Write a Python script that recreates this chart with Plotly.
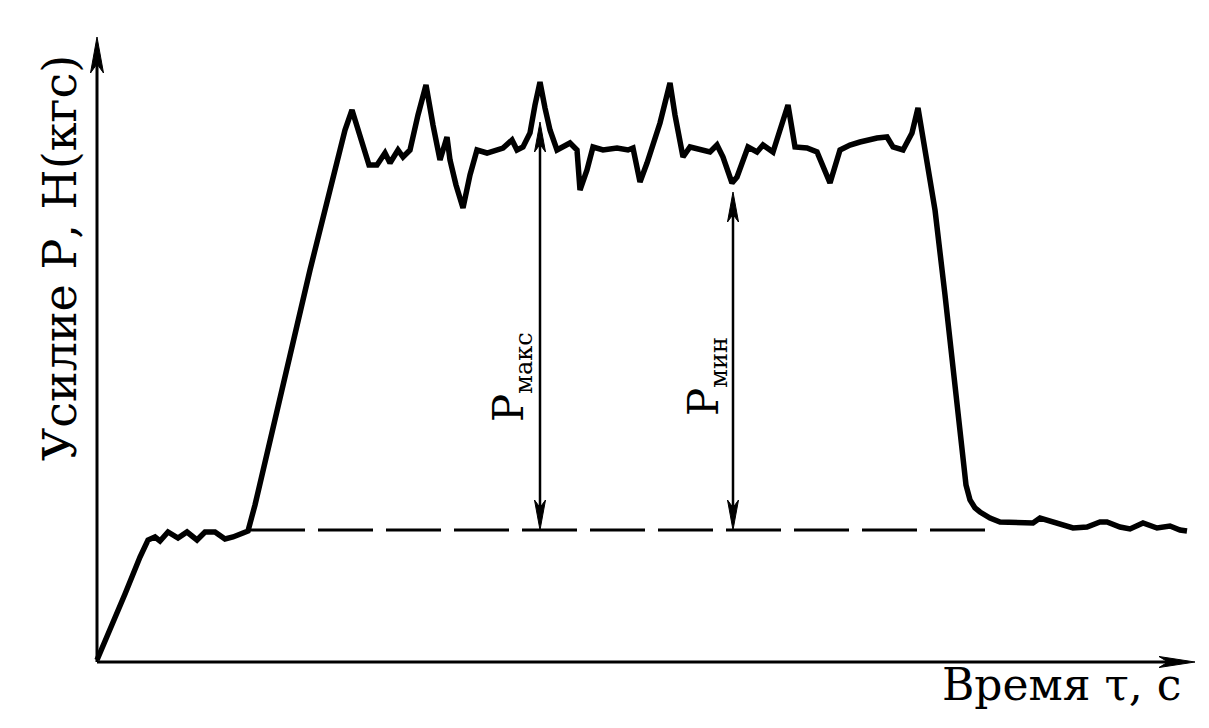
import plotly.graph_objects as go

# Time (arbitrary units) and force P (arbitrary units)
t = [0, 13, 28, 43, 51, 58, 63, 71, 81, 90, 100, 108, 118, 128, 136, 146, 151,
     158, 173, 193, 213, 233, 248, 255, 263, 272, 280, 288, 293, 301, 306, 313,
     321, 329, 336, 343, 350, 353, 359, 366, 373, 380, 390, 400, 406, 415, 420,
     426, 433, 438, 443, 448, 453, 460, 473, 480, 483, 490, 496, 506, 520, 531,
     536, 543, 550, 563, 573, 578, 583, 586, 593, 603, 613, 620, 626, 635, 640,
     651, 660, 666, 676, 683, 691, 698, 710, 720, 733, 743, 753, 763, 771, 780,
     790, 796, 806, 815, 821, 825, 831, 838, 848, 858, 865, 869, 873, 878, 883,
     893, 903, 920, 936, 943, 956, 966, 976, 990, 1003, 1010, 1016, 1023, 1033,
     1046, 1060, 1073, 1083, 1090]
P = [2, 32, 68, 105, 122, 125, 121, 130, 124, 130, 122, 130, 130, 123, 125, 129,
     131, 157, 222, 307, 392, 472, 532, 552, 527, 497, 497, 509, 499, 512, 505,
     512, 547, 577, 537, 502, 525, 502, 477, 454, 487, 512, 509, 512, 514, 522,
     512, 515, 529, 557, 580, 554, 532, 512, 519, 512, 472, 492, 515, 512, 514,
     512, 514, 480, 499, 539, 579, 547, 519, 505, 515, 512, 510, 517, 505, 479,
     485, 515, 510, 517, 510, 532, 557, 515, 514, 510, 479, 512, 517, 520, 522,
     524, 525, 515, 512, 529, 554, 529, 497, 452, 367, 282, 212, 177, 162, 154,
     150, 144, 140, 139, 139, 144, 140, 136, 134, 135, 140, 140, 137, 135, 133,
     139, 134, 136, 132, 131]

baseline_P = 132            # dashed reference level
baseline_span = [153, 900]  # time span of the dashed line
p_max_t, p_max_top = 443, 540   # "P макс" arrow
p_min_t, p_min_top = 636, 470   # "P мин" arrow
y_axis_top = 625
x_axis_end = 1098

y_title = "Усилие Р, Н(кгс)"
x_title = "Время τ, с"
p_max_label = "P<sub><span style='font-size:24px'>макс</span></sub>"
p_min_label = "P<sub><span style='font-size:24px'>мин</span></sub>"

fig = go.Figure()

# dashed reference line
fig.add_trace(go.Scatter(x=baseline_span, y=[baseline_P, baseline_P], mode="lines",
                         line=dict(color="black", width=3, dash="55px,13px"),
                         hoverinfo="skip", showlegend=False))

# main curve
fig.add_trace(go.Scatter(x=t, y=P, mode="lines",
                         line=dict(color="black", width=5.5),
                         hoverinfo="skip", showlegend=False))

# axes lines
fig.add_trace(go.Scatter(x=[0, 0], y=[0, y_axis_top - 20], mode="lines",
                         line=dict(color="black", width=3), hoverinfo="skip", showlegend=False))
fig.add_trace(go.Scatter(x=[0, x_axis_end - 20], y=[0, 0], mode="lines",
                         line=dict(color="black", width=3), hoverinfo="skip", showlegend=False))

# vertical dimension lines
for xt, top in [(p_max_t, p_max_top), (p_min_t, p_min_top)]:
    fig.add_trace(go.Scatter(x=[xt, xt], y=[baseline_P + 10, top - 10], mode="lines",
                             line=dict(color="black", width=2.5), hoverinfo="skip", showlegend=False))


def head(tx, ty, dx, dy, length, width):
    bx, by = tx - dx * length, ty - dy * length
    nx, ny = tx - dx * length * 0.75, ty - dy * length * 0.75
    px, py = -dy * width / 2, dx * width / 2
    return dict(type="path", xref="x", yref="y",
                path=f"M{tx},{ty} L{bx + px},{by + py} L{nx},{ny} L{bx - px},{by - py} Z",
                fillcolor="black", line=dict(color="black", width=1))


shapes = [
    head(0, y_axis_top, 0, 1, 36, 13),
    head(x_axis_end, 0, 1, 0, 36, 11),
    head(p_max_t, p_max_top, 0, 1, 30, 11),
    head(p_max_t, baseline_P, 0, -1, 30, 11),
    head(p_min_t, p_min_top, 0, 1, 30, 11),
    head(p_min_t, baseline_P, 0, -1, 30, 11),
]

serif = "DejaVu Serif"
annotations = [
    dict(x=-37, y=404, text=y_title, textangle=-90, showarrow=False,
         font=dict(family=serif, size=46, color="black"), xref="x", yref="y"),
    dict(x=964, y=-22, text=x_title, showarrow=False,
         font=dict(family=serif, size=44, color="black"), xref="x", yref="y"),
    dict(x=p_max_t - 29, y=285, text=p_max_label, textangle=-90, showarrow=False,
         font=dict(family=serif, size=42, color="black"), xref="x", yref="y"),
    dict(x=p_min_t - 27, y=285, text=p_min_label, textangle=-90, showarrow=False,
         font=dict(family=serif, size=42, color="black"), xref="x", yref="y"),
]

fig.update_layout(
    width=1209, height=728,
    margin=dict(l=0, r=0, t=0, b=0),
    paper_bgcolor="white", plot_bgcolor="white",
    xaxis=dict(range=[-89, 1120], visible=False, fixedrange=True),
    yaxis=dict(range=[-74, 654], visible=False, fixedrange=True),
    shapes=shapes, annotations=annotations, showlegend=False,
)

fig.write_html("out.html", config={"displayModeBar": False})
